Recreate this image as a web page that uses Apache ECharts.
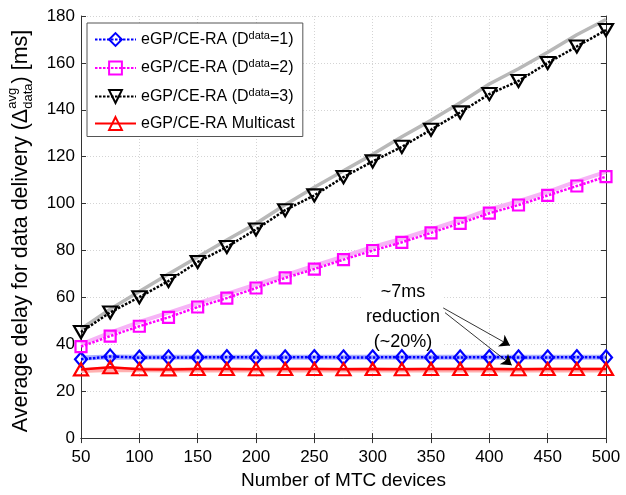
<!DOCTYPE html>
<html><head><meta charset="utf-8">
<script src="https://cdn.jsdelivr.net/npm/echarts@6/dist/echarts.min.js"></script>
<style>html,body{margin:0;padding:0;background:#fff}#c{width:626px;height:495px}</style>
</head><body><div id="c"></div>
<script>
// ---- data ----
const xValues = [50,75,100,125,150,175,200,225,250,275,300,325,350,375,400,425,450,475,500];
const d1Values = [33.6,34.8,34.3,34.4,34.4,34.5,34.4,34.4,34.5,34.4,34.4,34.5,34.4,34.4,34.5,34.4,34.4,34.5,34.4];
const d1Shadow = [34.2,34.6,34.5,34.5,34.5,34.5,34.5,34.5,34.5,34.5,34.5,34.5,34.5,34.5,34.5,34.5,34.5,34.5,34.5];
const d2Values = [39,43.5,47.7,51.5,55.9,59.7,64,68.3,72.1,76.1,80,83.5,87.5,91.6,95.9,99.4,103.5,107.5,111.5];
const d2Shadow = [40,45,49.5,53.5,57.5,61.5,65.5,69.5,73.5,77.5,81.5,85,89,93,97.5,101,105,109.5,113.5];
const d3Values = [45.2,53.6,60.1,67.0,75.1,81.5,89,97.2,103.5,111.3,118,124.2,131.5,138.9,146.7,152.3,160,167,174];
const d3Shadow = [46.5,55,62.5,70,77.2,84.5,91.5,99.5,107,114,121,128.5,135.5,143,151,157.5,164.5,172,178.5];
const mcValues = [29.3,30.2,29.4,29.3,29.5,29.5,29.4,29.5,29.5,29.4,29.5,29.4,29.5,29.5,29.5,29.4,29.5,29.5,29.5];
const mcShadow = [28.8,29.2,29.1,29,29,29,29,29,29,29,29,29,29,29,29,29,29,29,29];
const xTicks = {min:50, max:500, interval:50};
const yTicks = {min:0, max:180, interval:20};
const legendNames = ['D1','D2','D3','MC'];
const legendLabels = {
  D1:'{m|eGP/CE-RA (D}{s|data}{m|=1)}',
  D2:'{m|eGP/CE-RA (D}{s|data}{m|=2)}',
  D3:'{m|eGP/CE-RA (D}{s|data}{m|=3)}',
  MC:'{m|eGP/CE-RA Multicast}'
};
const annotationLines = ['~7ms','reduction','(~20%)'];
const arrowPairs = [
  [[360.5,55.5],[417.7,39.5]],
  [[362,53.5],[419.2,31.1]]
];
// ---- rendering ----
const FONT = '"Liberation Sans", Arial, Helvetica, sans-serif';
const pair = a => a.map((v,i)=>[xValues[i], v]);
const chart = echarts.init(document.getElementById('c'), null, {renderer:'canvas'});

function shadow(data, color, width){
  return {type:'line', data:pair(data), showSymbol:false, symbol:'none', silent:true, z:3,
    lineStyle:{color, width}, legendHoverLink:false};
}
function main(name, data, color, symbol, size, dash, width){
  return {type:'line', name, data:pair(data), z:4, symbol, symbolSize:size,
    showSymbol:true, itemStyle:{color:'rgba(255,255,255,0)', borderColor:color, borderWidth:2.2},
    lineStyle:{color, width, type:dash}};
}
const ctx = document.createElement('canvas').getContext('2d');
function tw(t, px){ ctx.font = px + 'px ' + FONT; return ctx.measureText(t).width; }
const YF = 21.5, YS = 13;
const yl1 = 'Average delay for data delivery (\u0394', yl2 = ') [ms]';
const w1 = tw(yl1,YF), ws = Math.max(tw('avg',YS), tw('data',YS)), w2 = tw(yl2,YF);
const total = w1 + ws + w2;
const x0 = -total/2;

const blueMain = main('D1', d1Values, '#0000ff', 'diamond', [12,14], [2.5,1.5], 2.5);
blueMain.markLine = {
  silent:true, symbol:['none','arrow'], symbolSize:10, animation:false,
  label:{show:false}, lineStyle:{color:'#000', width:0.8, type:'solid'},
  data: arrowPairs.map(p => [{coord:p[0]},{coord:p[1]}])
};

chart.setOption({
  animation:false,
  grid:{left:81, right:20, top:16, bottom:49},
  xAxis:[{type:'value', min:xTicks.min, max:xTicks.max, interval:xTicks.interval,
      name:'Number of MTC devices', nameLocation:'middle', nameGap:28,
      nameTextStyle:{fontSize:19, fontFamily:FONT, color:'#000'},
      axisLine:{lineStyle:{color:'#333', width:1}},
      axisTick:{inside:true, length:5, lineStyle:{color:'#333'}},
      axisLabel:{fontSize:17, fontFamily:FONT, color:'#000', margin:11},
      splitLine:{show:true, lineStyle:{color:'#d4d4d4', type:[1,2], width:1}}},
    {type:'value', position:'top', min:xTicks.min, max:xTicks.max, interval:xTicks.interval,
      axisLine:{show:true, lineStyle:{color:'#333'}}, axisTick:{inside:true, length:5, lineStyle:{color:'#333'}},
      axisLabel:{show:false}, splitLine:{show:false}}],
  yAxis:[{type:'value', min:yTicks.min, max:yTicks.max, interval:yTicks.interval,
      axisLine:{show:true, lineStyle:{color:'#333', width:1}},
      axisTick:{show:true, inside:true, length:5, lineStyle:{color:'#333'}},
      axisLabel:{fontSize:17, fontFamily:FONT, color:'#000', margin:6},
      splitLine:{show:true, lineStyle:{color:'#d4d4d4', type:[1,2], width:1}}},
    {type:'value', position:'right', min:yTicks.min, max:yTicks.max, interval:yTicks.interval,
      axisLine:{show:true, lineStyle:{color:'#333'}}, axisTick:{show:true, inside:true, length:5, lineStyle:{color:'#333'}},
      axisLabel:{show:false}, splitLine:{show:false}}],
  legend:{
    data:legendNames, orient:'vertical', left:87, top:23, z:10,
    padding:[7,8,5,7], itemGap:11, itemWidth:41, itemHeight:16,
    backgroundColor:'#fff', borderColor:'#555', borderWidth:1, borderRadius:0,
    selectedMode:false,
    formatter: n => legendLabels[n],
    textStyle:{fontSize:16, fontFamily:FONT, color:'#000',
      rich:{m:{fontSize:16, fontFamily:FONT, color:'#000', lineHeight:19},
            s:{fontSize:11, fontFamily:FONT, color:'#000', lineHeight:11, verticalAlign:'top'}}}
  },
  series:[
    shadow(d3Shadow, '#b8b8b8', 3.5),
    shadow(d2Shadow, '#f6b4f6', 4),
    shadow(d1Shadow, '#aab0ff', 5),
    shadow(mcShadow, '#ffb0b0', 5),
    blueMain,
    main('D2', d2Values, '#ff00ff', 'rect', 11, [2.5,1.5], 2.5),
    main('D3', d3Values, '#000000', 'path://M0,0L20,0L10,17Z', [14,12], [2.5,1.5], 2.5),
    main('MC', mcValues, '#ff0000', 'triangle', [14,12], 'solid', 2.5)
  ],
  graphic:[
    {type:'group', x:21, y:231, rotation:Math.PI/2, children:[
      {type:'text', x:x0, y:0, style:{text:yl1, font:YF+'px '+FONT, fill:'#000', verticalAlign:'middle', align:'left'}},
      {type:'text', x:x0+w1, y:-9, style:{text:'avg', font:YS+'px '+FONT, fill:'#000', verticalAlign:'middle', align:'left'}},
      {type:'text', x:x0+w1, y:7, style:{text:'data', font:YS+'px '+FONT, fill:'#000', verticalAlign:'middle', align:'left'}},
      {type:'text', x:x0+w1+ws, y:0, style:{text:yl2, font:YF+'px '+FONT, fill:'#000', verticalAlign:'middle', align:'left'}}
    ]},
    {type:'text', x:403, y:280, z:1, style:{text:annotationLines.join('\n'), font:'18px '+FONT, lineHeight:25,
      fill:'#000', align:'center', verticalAlign:'top', backgroundColor:'#fff', padding:[0,3,0,3]}}
  ]
});
</script></body></html>
